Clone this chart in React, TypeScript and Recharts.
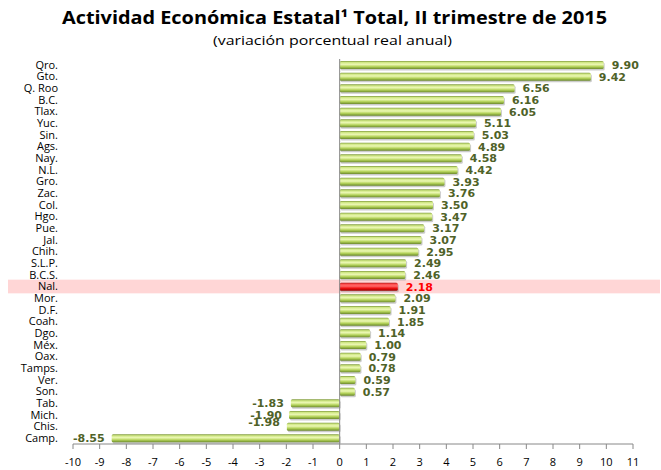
import {
  Bar,
  BarChart,
  LabelList,
  ReferenceArea,
  ReferenceLine,
  XAxis,
  YAxis,
} from "recharts";

const states = [
  "Qro.", "Gto.", "Q. Roo", "B.C.", "Tlax.", "Yuc.", "Sin.", "Ags.", "Nay.", "N.L.",
  "Gro.", "Zac.", "Col.", "Hgo.", "Pue.", "Jal.", "Chih.", "S.L.P.", "B.C.S.", "Nal.",
  "Mor.", "D.F.", "Coah.", "Dgo.", "Méx.", "Oax.", "Tamps.", "Ver.", "Son.", "Tab.",
  "Mich.", "Chis.", "Camp.",
];

const growth = [
  9.9, 9.42, 6.56, 6.16, 6.05, 5.11, 5.03, 4.89, 4.58, 4.42,
  3.93, 3.76, 3.5, 3.47, 3.17, 3.07, 2.95, 2.49, 2.46, 2.18,
  2.09, 1.91, 1.85, 1.14, 1.0, 0.79, 0.78, 0.59, 0.57, -1.83,
  -1.9, -1.98, -8.55,
];

const xTicks = [-10, -9, -8, -7, -6, -5, -4, -3, -2, -1, 0, 1, 2, 3, 4, 5, 6, 7, 8, 9, 10, 11];

const national = "Nal.";

const data = states.map((state, i) => ({ state, value: growth[i] }));

const FONT = "'Open Sans', 'DejaVu Sans', sans-serif";

function GlossyBar(props: any) {
  const { x, y, width, height, payload } = props;
  const left = Math.min(x, x + width);
  const w = Math.abs(width);
  const red = payload?.state === national;
  return (
    <g>
      <rect x={left + 1} y={y + 1.5} width={w} height={height} fill="#8c8c8c" opacity={0.45} rx={1.5} />
      <rect
        x={left}
        y={y}
        width={w}
        height={height}
        rx={1.5}
        fill={red ? "url(#natGrad)" : "url(#stateGrad)"}
      />
    </g>
  );
}

function ValueLabel(props: any) {
  const { x, y, width, height, value, index } = props;
  const v = Number(value);
  const left = Math.min(x, x + width);
  const right = Math.max(x, x + width);
  const red = states[index] === national;
  // excel had the Chis. label dragged up onto Mich.
  const nudge = states[index] === "Chis." ? -5 : 0;
  return (
    <text
      x={v < 0 ? left - 7 : right + 8}
      y={y + height / 2 + 4 + nudge}
      textAnchor={v < 0 ? "end" : "start"}
      fontFamily="'DejaVu Sans', Verdana, sans-serif"
      fontWeight="bold"
      fontSize={11}
      fill={red ? "#ff0000" : "#4f6228"}
    >
      {v.toFixed(2)}
    </text>
  );
}

function Band(props: any) {
  const { y, height } = props;
  return <rect x={8} y={y - 1} width={652} height={height + 2} fill="#ffd6d6" />;
}

export default function App() {
  return (
    <div style={{ position: "absolute", left: 0, top: 0, width: 661, height: 470, background: "#fff" }}>
      <svg width={661} height={56} style={{ position: "absolute", left: 0, top: 0 }}>
        <text
          x={62}
          y={24}
          textLength={545}
          lengthAdjust="spacingAndGlyphs"
          fontFamily={FONT}
          fontWeight="bold"
          fontSize={18}
          fill="#000"
        >
          Actividad Económica Estatal¹ Total, II trimestre de 2015
        </text>
        <text
          x={213}
          y={45}
          textLength={239}
          lengthAdjust="spacingAndGlyphs"
          fontFamily={FONT}
          fontSize={13}
          fill="#000"
        >
          (variación porcentual real anual)
        </text>
      </svg>
      <div style={{ position: "absolute", left: 0, top: 0 }}>
        <BarChart
          width={661}
          height={470}
          layout="vertical"
          data={data}
          margin={{ top: 59, right: 28, bottom: 0, left: 0 }}
          style={{ fontFamily: FONT }}
        >
          <defs>
            <linearGradient id="stateGrad" x1="0" y1="0" x2="0" y2="1">
              <stop offset="0%" stopColor="#7f9a3c" />
              <stop offset="18%" stopColor="#cfe784" />
              <stop offset="42%" stopColor="#ecf8b4" />
              <stop offset="70%" stopColor="#b4d35a" />
              <stop offset="100%" stopColor="#6c8a2c" />
            </linearGradient>
            <linearGradient id="natGrad" x1="0" y1="0" x2="0" y2="1">
              <stop offset="0%" stopColor="#a81010" />
              <stop offset="18%" stopColor="#ff4a4a" />
              <stop offset="42%" stopColor="#ff6a6a" />
              <stop offset="70%" stopColor="#ee1111" />
              <stop offset="100%" stopColor="#9a0000" />
            </linearGradient>
          </defs>
          <ReferenceArea y1={national} y2={national} ifOverflow="visible" shape={Band} />
          <XAxis
            type="number"
            domain={[-10, 11]}
            ticks={xTicks}
            interval={0}
            height={26}
            allowDataOverflow
            axisLine={{ stroke: "#888" }}
            tickLine={{ stroke: "#888" }}
            tickSize={5}
            tickMargin={9}
            tick={{ fontSize: 11, fill: "#000", fontFamily: FONT }}
          />
          <YAxis
            type="category"
            dataKey="state"
            width={73}
            interval={0}
            axisLine={false}
            tickLine={false}
            tickSize={0}
            tickMargin={15}
            tick={{ fontSize: 11, fill: "#000", fontFamily: FONT }}
          />
          <ReferenceLine x={0} stroke="#888" ifOverflow="visible" />
          <Bar dataKey="value" barSize={8} shape={GlossyBar} isAnimationActive={false}>
            <LabelList dataKey="value" content={ValueLabel} />
          </Bar>
        </BarChart>
      </div>
    </div>
  );
}
